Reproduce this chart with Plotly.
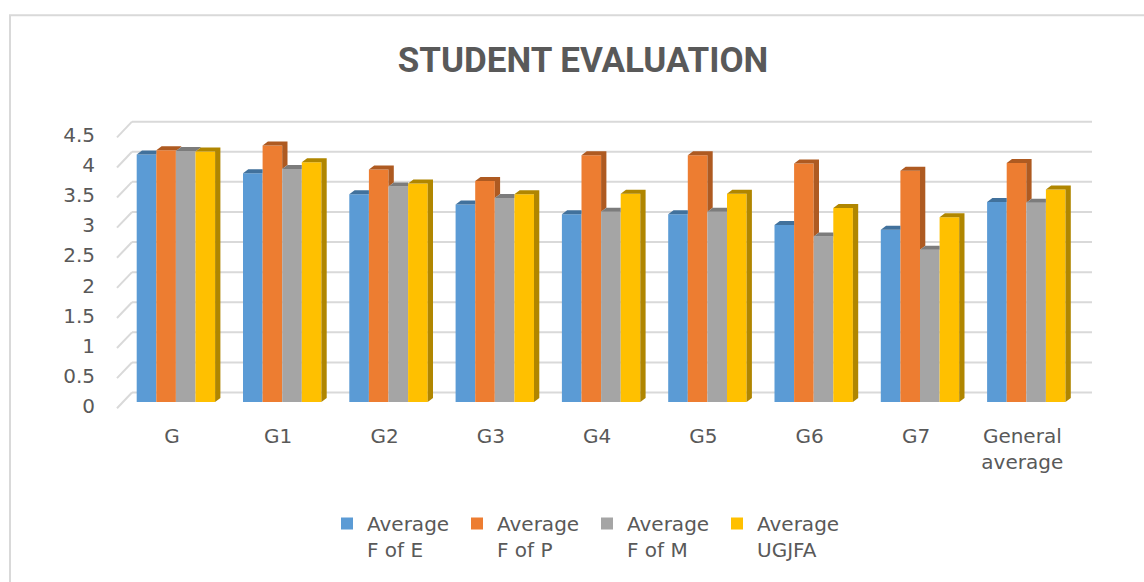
import plotly.graph_objects as go

# ---------------- data ----------------
categories = ["G", "G1", "G2", "G3", "G4", "G5", "G6", "G7", "General<br>average"]
series_names = ["Average<br>F of E", "Average<br>F of P", "Average<br>F of M", "Average<br>UGJFA"]
avg_f_of_e = [4.11, 3.80, 3.45, 3.28, 3.12, 3.12, 2.94, 2.86, 3.32]
avg_f_of_p = [4.18, 4.26, 3.86, 3.67, 4.10, 4.10, 3.96, 3.84, 3.97]
avg_f_of_m = [4.17, 3.87, 3.58, 3.39, 3.16, 3.16, 2.75, 2.53, 3.31]
avg_ugjfa = [4.16, 3.98, 3.63, 3.45, 3.46, 3.46, 3.22, 3.07, 3.53]
y_ticks = [0, 0.5, 1, 1.5, 2, 2.5, 3, 3.5, 4, 4.5]
y_tick_text = ["0", "0.5", "1", "1.5", "2", "2.5", "3", "3.5", "4", "4.5"]

# ---------------- style ----------------
front_colors = ["#5B9BD5", "#ED7D31", "#A5A5A5", "#FFC000"]
dark_colors = ["#41719C", "#AE5A21", "#7C7C7C", "#B08600"]
grid_color = "#D9D9D9"
text_color = "#595959"
FONT = "DejaVu Sans"

W, H = 1144, 582
L, R = 110, 49
plot_w = W - L - R
px_per_cat = 106.3
x_first_center = 175.9
x_lo = -(x_first_center - L) / px_per_cat
x_hi = x_lo + plot_w / px_per_cat

px_per_unit = 60.2
zero_px = 401.7
y_lo, y_hi = -0.2, 4.8
B = H - (zero_px - y_lo * px_per_unit)
T = H - B - (y_hi - y_lo) * px_per_unit
plot_h = H - T - B

bar_w = 19.6 / px_per_cat
dx = 5.3 / px_per_cat
dy = 4.0 / px_per_unit

series = [avg_f_of_e, avg_f_of_p, avg_f_of_m, avg_ugjfa]
xs = list(range(len(categories)))

fig = go.Figure()
for k, (name, vals) in enumerate(zip(series_names, series)):
    fig.add_trace(go.Bar(
        x=xs, y=vals, name=name, width=bar_w, offset=-2 * bar_w + k * bar_w,
        marker=dict(color=front_colors[k], line=dict(width=0)),
        hoverinfo="skip",
    ))

# 3D side / top faces derived from the values
for k, vals in enumerate(series):
    px_, py_ = [], []
    for i, v in enumerate(vals):
        x0 = i - 2 * bar_w + k * bar_w
        x1 = x0 + bar_w
        nxt = series[k + 1][i] if k < 3 else None
        base = 0 if nxt is None else nxt
        if nxt is None or v > nxt:
            px_ += [x1, x1 + dx, x1 + dx, x1, x1, None]
            py_ += [base, base + dy, v + dy, v, base, None]
        if nxt is not None and nxt > v:
            px_ += [x0, x0 + dx, x1, x1, x0, None]
            py_ += [v, v + dy, v + dy, v, v, None]
        else:
            px_ += [x0, x0 + dx, x1 + dx, x1, x0, None]
            py_ += [v, v + dy, v + dy, v, v, None]
    fig.add_trace(go.Scatter(
        x=px_, y=py_, mode="none", fill="toself", fillcolor=dark_colors[k],
        showlegend=False, hoverinfo="skip",
    ))


def xpaper(px):
    return (px - L) / plot_w


def ypaper(py):
    return (H - B - py) / plot_h


shapes = []
back_off = (zero_px - 392.3) / px_per_unit
front_off = (408 - zero_px) / px_per_unit
for v in y_ticks:
    shapes.append(dict(type="line", xref="paper", yref="y",
                       x0=xpaper(132), x1=xpaper(1092), y0=v + back_off, y1=v + back_off,
                       line=dict(color=grid_color, width=2), layer="below"))
    shapes.append(dict(type="line", xref="paper", yref="y",
                       x0=xpaper(117), x1=xpaper(132), y0=v - front_off, y1=v + back_off,
                       line=dict(color=grid_color, width=2), layer="below"))
shapes.append(dict(type="rect", xref="paper", yref="paper",
                   x0=xpaper(10), x1=xpaper(1160), y0=ypaper(15), y1=ypaper(600),
                   line=dict(color=grid_color, width=2), layer="below"))

fig.update_layout(
    width=W, height=H,
    margin=dict(l=L, r=R, t=T, b=B),
    paper_bgcolor="white", plot_bgcolor="white",
    barmode="overlay",
    font=dict(family=FONT, size=20, color=text_color),
    title=dict(text="<b>STUDENT EVALUATION</b>", x=583 / W, xref="container", xanchor="center",
               y=1 - 60 / H, yref="container", yanchor="middle",
               font=dict(family="Roboto", size=35, color=text_color)),
    xaxis=dict(range=[x_lo, x_hi], tickvals=xs, ticktext=categories, showgrid=False,
               zeroline=False, showline=False, ticks="", ticklabelshift=-4,
               ticklabelstandoff=8, tickfont=dict(size=20, color=text_color)),
    yaxis=dict(range=[y_lo, y_hi], tickvals=y_ticks, ticktext=y_tick_text, showgrid=False,
               zeroline=False, showline=False, ticks="", ticklabelshift=4,
               ticklabelstandoff=14, tickfont=dict(size=20, color=text_color)),
    legend=dict(orientation="h", xref="container", yref="container",
                x=327 / W, xanchor="left", y=1 - 504 / H, yanchor="top",
                valign="top", traceorder="normal", entrywidth=85,
                font=dict(size=20, color=text_color), bgcolor="rgba(0,0,0,0)"),
    shapes=shapes,
    showlegend=True,
)

fig.write_html("out.html", config={"displayModeBar": False},
               post_script="document.body.style.margin='0';document.body.style.padding='0';")
